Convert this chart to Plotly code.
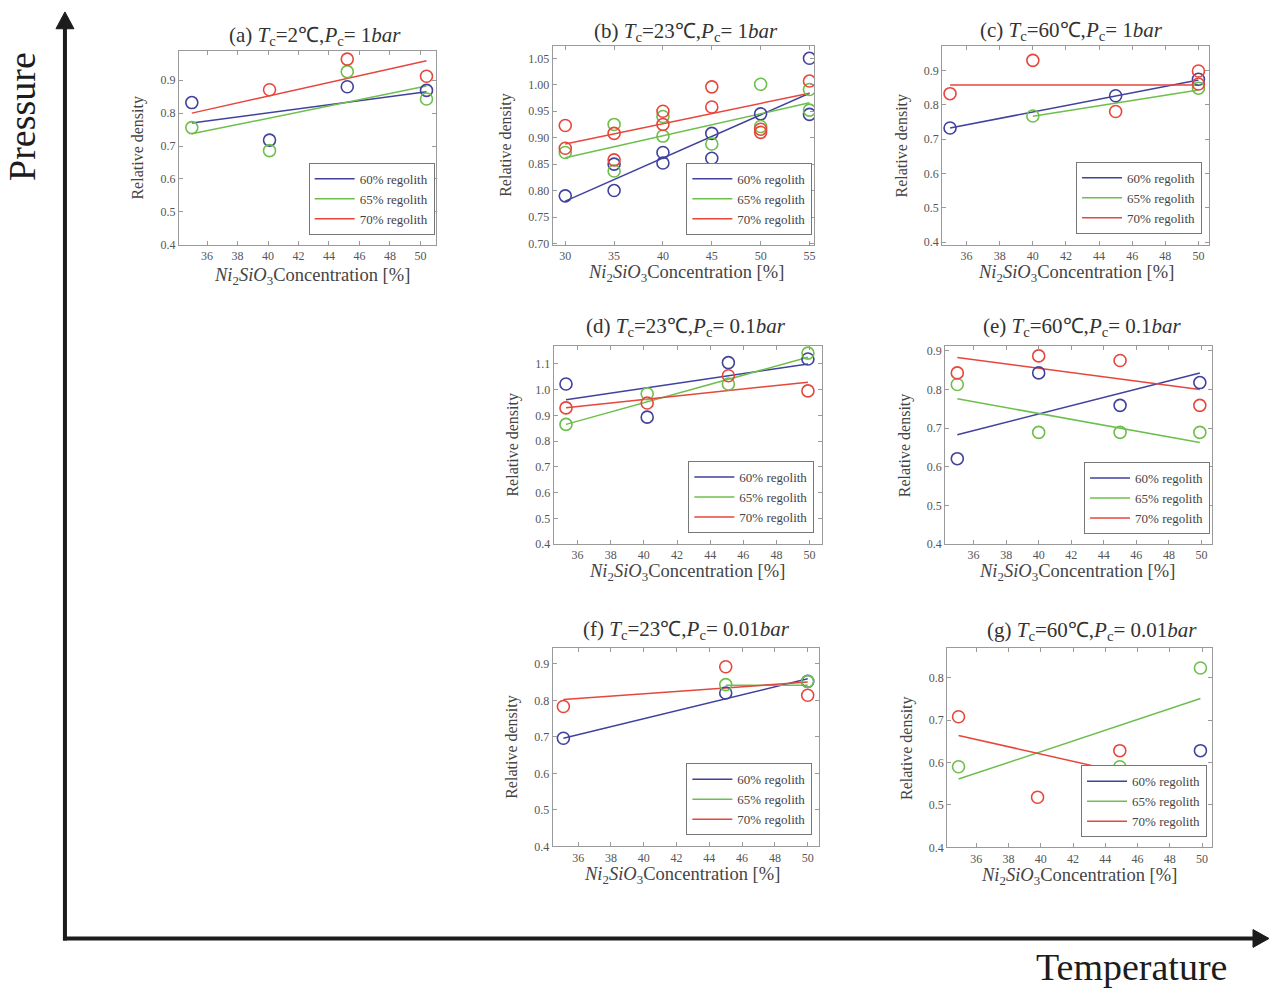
import plotly.graph_objects as go

W, H = 1271, 998
FONT = "Liberation Serif"
SERIES = ["60% regolith", "65% regolith", "70% regolith"]
COLORS = ["#41419e", "#6dbf4b", "#e6463c"]

# ---------------- data ----------------
# (a) Tc=2C, Pc=1bar
a_x60 = [35, 40.1, 45.2, 50.4]
a_y60 = [0.832, 0.718, 0.880, 0.869]
a_x65 = [35, 40.1, 45.2, 50.4]
a_y65 = [0.756, 0.686, 0.926, 0.843]
a_x70 = [40.1, 45.2, 50.4]
a_y70 = [0.871, 0.964, 0.912]
a_fx60, a_fy60 = [35, 50.4], [0.770, 0.865]
a_fx65, a_fy65 = [35, 50.4], [0.737, 0.882]
a_fx70, a_fy70 = [35, 50.4], [0.800, 0.959]

# (b) Tc=23C, Pc=1bar
b_x60 = [30, 35, 35, 40, 40, 45, 45, 50, 55, 55]
b_y60 = [0.790, 0.850, 0.800, 0.872, 0.852, 0.908, 0.861, 0.945, 1.050, 0.944]
b_x65 = [30, 35, 35, 40, 40, 45, 50, 50, 55, 55]
b_y65 = [0.872, 0.925, 0.837, 0.940, 0.903, 0.888, 1.001, 0.921, 0.991, 0.952]
b_x70 = [30, 30, 35, 35, 40, 40, 45, 45, 50, 50, 55]
b_y70 = [0.923, 0.880, 0.908, 0.858, 0.950, 0.925, 0.996, 0.958, 0.916, 0.910, 1.007]
b_fx60, b_fy60 = [30, 55], [0.780, 0.984]
b_fx65, b_fy65 = [30, 55], [0.862, 0.966]
b_fx70, b_fy70 = [30, 55], [0.888, 0.984]

# (c) Tc=60C, Pc=1bar
c_x60 = [35, 45, 50]
c_y60 = [0.732, 0.826, 0.874]
c_x65 = [40, 50]
c_y65 = [0.767, 0.848]
c_x70 = [35, 40, 45, 50, 50]
c_y70 = [0.832, 0.929, 0.780, 0.898, 0.860]
c_fx60, c_fy60 = [35, 50], [0.732, 0.872]
c_fx65, c_fy65 = [40, 50], [0.766, 0.843]
c_fx70, c_fy70 = [35, 50], [0.857, 0.857]

# (d) Tc=23C, Pc=0.1bar
d_x = [35.3, 40.2, 45.1, 49.9]
d_y60 = [1.022, 0.893, 1.105, 1.119]
d_y65 = [0.865, 0.984, 1.022, 1.142]
d_y70 = [0.929, 0.948, 1.054, 0.995]
d_fx, d_fy60 = [35.3, 49.9], [0.961, 1.100]
d_fy65 = [0.865, 1.126]
d_fy70 = [0.930, 1.029]

# (e) Tc=60C, Pc=0.1bar
e_x = [35, 40, 45, 49.9]
e_y60 = [0.621, 0.843, 0.759, 0.818]
e_y65 = [0.813, 0.689, 0.689, 0.689]
e_y70 = [0.843, 0.887, 0.875, 0.759]
e_fx = [35, 49.9]
e_fy60 = [0.683, 0.843]
e_fy65 = [0.776, 0.663]
e_fy70 = [0.883, 0.800]

# (f) Tc=23C, Pc=0.01bar
f_x60 = [35.1, 45, 50]
f_y60 = [0.696, 0.820, 0.852]
f_x65 = [45, 50]
f_y65 = [0.843, 0.852]
f_x70 = [35.1, 45, 50]
f_y70 = [0.783, 0.892, 0.814]
f_fx60, f_fy60 = [35.1, 50], [0.696, 0.859]
f_fx65, f_fy65 = [45, 50], [0.841, 0.841]
f_fx70, f_fy70 = [35.1, 50], [0.802, 0.850]

# (g) Tc=60C, Pc=0.01bar
g_x60 = [49.9]
g_y60 = [0.628]
g_x65 = [34.9, 44.9, 49.9]
g_y65 = [0.590, 0.590, 0.823]
g_x70 = [34.9, 39.8, 44.9]
g_y70 = [0.708, 0.518, 0.628]
g_fx65, g_fy65 = [34.9, 49.9], [0.561, 0.751]
g_fx70, g_fy70 = [34.9, 44.9], [0.664, 0.578]

TICKS_X = [36, 38, 40, 42, 44, 46, 48, 50]
TICKS_XB = [30, 35, 40, 45, 50, 55]
TICKS_Y49 = [0.4, 0.5, 0.6, 0.7, 0.8, 0.9]
TICKS_YB = [0.70, 0.75, 0.80, 0.85, 0.90, 0.95, 1.00, 1.05]
TICKS_YD = [0.4, 0.5, 0.6, 0.7, 0.8, 0.9, 1.0, 1.1]
TICKS_YG = [0.4, 0.5, 0.6, 0.7, 0.8]

panels = [
    dict(title="(a) <i>T</i><sub>c</sub>=2℃,<i>P</i><sub>c</sub>= 1<i>bar</i>",
         pts=[(a_x60, a_y60), (a_x65, a_y65), (a_x70, a_y70)],
         fits=[(a_fx60, a_fy60), (a_fx65, a_fy65), (a_fx70, a_fy70)],
         xr=[34.15, 51.0], yr=[0.4, 0.99], xt=TICKS_X, yt=TICKS_Y49, fmt=".1f"),
    dict(title="(b) <i>T</i><sub>c</sub>=23℃,<i>P</i><sub>c</sub>= 1<i>bar</i>",
         pts=[(b_x60, b_y60), (b_x65, b_y65), (b_x70, b_y70)],
         fits=[(b_fx60, b_fy60), (b_fx65, b_fy65), (b_fx70, b_fy70)],
         xr=[28.7, 55.5], yr=[0.6975, 1.074], xt=TICKS_XB, yt=TICKS_YB, fmt=".2f"),
    dict(title="(c) <i>T</i><sub>c</sub>=60℃,<i>P</i><sub>c</sub>= 1<i>bar</i>",
         pts=[(c_x60, c_y60), (c_x65, c_y65), (c_x70, c_y70)],
         fits=[(c_fx60, c_fy60), (c_fx65, c_fy65), (c_fx70, c_fy70)],
         xr=[34.53, 50.64], yr=[0.392, 0.972], xt=TICKS_X, yt=TICKS_Y49, fmt=".1f"),
    dict(title="(d) <i>T</i><sub>c</sub>=23℃,<i>P</i><sub>c</sub>= 0.1<i>bar</i>",
         pts=[(d_x, d_y60), (d_x, d_y65), (d_x, d_y70)],
         fits=[(d_fx, d_fy60), (d_fx, d_fy65), (d_fx, d_fy70)],
         xr=[34.55, 50.77], yr=[0.4, 1.17], xt=TICKS_X, yt=TICKS_YD, fmt=".1f"),
    dict(title="(e) <i>T</i><sub>c</sub>=60℃,<i>P</i><sub>c</sub>= 0.1<i>bar</i>",
         pts=[(e_x, e_y60), (e_x, e_y65), (e_x, e_y70)],
         fits=[(e_fx, e_fy60), (e_fx, e_fy65), (e_fx, e_fy70)],
         xr=[34.26, 50.65], yr=[0.4, 0.913], xt=TICKS_X, yt=TICKS_Y49, fmt=".1f"),
    dict(title="(f) <i>T</i><sub>c</sub>=23℃,<i>P</i><sub>c</sub>= 0.01<i>bar</i>",
         pts=[(f_x60, f_y60), (f_x65, f_y65), (f_x70, f_y70)],
         fits=[(f_fx60, f_fy60), (f_fx65, f_fy65), (f_fx70, f_fy70)],
         xr=[34.44, 50.71], yr=[0.4, 0.943], xt=TICKS_X, yt=TICKS_Y49, fmt=".1f"),
    dict(title="(g) <i>T</i><sub>c</sub>=60℃,<i>P</i><sub>c</sub>= 0.01<i>bar</i>",
         pts=[(g_x60, g_y60), (g_x65, g_y65), (g_x70, g_y70)],
         fits=[None, (g_fx65, g_fy65), (g_fx70, g_fy70)],
         xr=[34.2, 50.62], yr=[0.4, 0.870], xt=TICKS_X, yt=TICKS_YG, fmt=".1f"),
]

# pixel layout: plot box (l, r, t, b), title centre, x-title centre, y-title x, legend (right, bottom)
boxes = [
    dict(box=(179, 436, 49, 245), tt=(315, 34), xtl=(312, 277), ytl=138, leg=(435, 235)),
    dict(box=(553, 815, 44, 245), tt=(687, 30), xtl=(687, 274), ytl=507, leg=(813, 235)),
    dict(box=(943, 1210, 44, 245), tt=(1072, 29), xtl=(1077, 274), ytl=903, leg=(1203, 234)),
    dict(box=(554, 823, 347, 547), tt=(687, 328), xtl=(688, 576), ytl=513, leg=(815, 536)),
    dict(box=(946, 1213, 347, 547), tt=(1083, 328), xtl=(1078, 576), ytl=906, leg=(1211, 537)),
    dict(box=(553, 820, 652, 852), tt=(687, 634), xtl=(683, 881), ytl=513, leg=(813, 841)),
    dict(box=(948, 1213, 652, 853), tt=(1093, 635), xtl=(1080, 882), ytl=907, leg=(1208, 843)),
]

fig = go.Figure()
layout = dict(width=W, height=H, margin=dict(l=0, r=0, t=0, b=0),
              paper_bgcolor="white", plot_bgcolor="white",
              font=dict(family=FONT, color="#444"))
annotations = []
shapes = []

def px(xp):
    return xp / W

def py(yp):
    return 1 - yp / H

for i, (p, g) in enumerate(zip(panels, boxes)):
    n = "" if i == 0 else str(i + 1)
    leg = "legend" + n
    xa, ya = "x" + n, "y" + n
    for s in range(3):
        fit = p["fits"][s]
        fx, fy = (fit if fit is not None else ([None], [None]))
        fig.add_trace(go.Scatter(x=fx, y=fy, mode="lines", xaxis=xa, yaxis=ya,
                                 line=dict(color=COLORS[s], width=1.5),
                                 name=SERIES[s], legend=leg, showlegend=True,
                                 hoverinfo="skip"))
    for s in range(3):
        xs, ys = p["pts"][s]
        fig.add_trace(go.Scatter(x=xs, y=ys, mode="markers", xaxis=xa, yaxis=ya,
                                 marker=dict(symbol="circle-open", size=12,
                                             color=COLORS[s], line=dict(width=1.6, color=COLORS[s])),
                                 showlegend=False, legend=leg))
    l, r, t, b = g["box"]
    ax_common = dict(showline=True, linecolor="#9a9a9a", linewidth=1, mirror="ticks",
                     ticks="inside", ticklen=4, tickcolor="#9a9a9a", showgrid=False,
                     zeroline=False, tickfont=dict(size=12, color="#555", family=FONT))
    layout["xaxis" + n] = dict(ax_common, domain=[px(l), px(r)], anchor=ya,
                               range=p["xr"], tickvals=p["xt"])
    layout["yaxis" + n] = dict(ax_common, domain=[py(b), py(t)], anchor=xa,
                               range=p["yr"], tickvals=p["yt"], tickformat=p["fmt"])
    layout[leg] = dict(x=px(g["leg"][0]), y=py(g["leg"][1]), xanchor="right", yanchor="bottom",
                       xref="paper", yref="paper", bgcolor="white", bordercolor="#777",
                       borderwidth=1, font=dict(size=13, family=FONT, color="#444"),
                       itemwidth=40, tracegroupgap=0)
    annotations.append(dict(text=p["title"], x=px(g["tt"][0]), y=py(g["tt"][1]),
                            xref="paper", yref="paper", showarrow=False,
                            xanchor="center", yanchor="middle",
                            font=dict(size=21, family=FONT, color="#333")))
    annotations.append(dict(text="<i>Ni</i><sub>2</sub><i>SiO</i><sub>3</sub>Concentration [%]",
                            x=px(g["xtl"][0]), y=py(g["xtl"][1]),
                            xref="paper", yref="paper", showarrow=False,
                            xanchor="center", yanchor="middle",
                            font=dict(size=18.5, family=FONT, color="#444")))
    annotations.append(dict(text="Relative density", x=px(g["ytl"]), y=py((t + b) / 2),
                            xref="paper", yref="paper", showarrow=False, textangle=-90,
                            xanchor="center", yanchor="middle",
                            font=dict(size=16, family=FONT, color="#444")))

# big axis arrows: shafts and heads as shapes in paper space
AX_COLOR = "#1c1c1c"
shapes.append(dict(type="line", xref="paper", yref="paper", x0=px(65), x1=px(65),
                   y0=py(947), y1=py(24), line=dict(color=AX_COLOR, width=4)))
shapes.append(dict(type="line", xref="paper", yref="paper", x0=px(63), x1=px(1257),
                   y0=py(945), y1=py(945), line=dict(color=AX_COLOR, width=4)))
shapes.append(dict(type="path", xref="paper", yref="paper",
                   path=f"M {px(65)} {py(10)} L {px(56)} {py(27)} L {px(74)} {py(27)} Z",
                   fillcolor=AX_COLOR, line=dict(color=AX_COLOR, width=1)))
shapes.append(dict(type="path", xref="paper", yref="paper",
                   path=f"M {px(1270)} {py(945)} L {px(1254)} {py(936)} L {px(1254)} {py(954)} Z",
                   fillcolor=AX_COLOR, line=dict(color=AX_COLOR, width=1)))
annotations.append(dict(text="Pressure", x=px(22), y=py(115), xref="paper", yref="paper",
                        showarrow=False, textangle=-90, xanchor="center", yanchor="middle",
                        font=dict(size=38, family=FONT, color="#1c1c1c")))
annotations.append(dict(text="Temperature", x=px(1132), y=py(974), xref="paper", yref="paper",
                        showarrow=False, xanchor="center", yanchor="middle",
                        font=dict(size=38, family=FONT, color="#1c1c1c")))

layout["annotations"] = annotations
layout["shapes"] = shapes
fig.update_layout(**layout)
fig.write_html("out.html")
